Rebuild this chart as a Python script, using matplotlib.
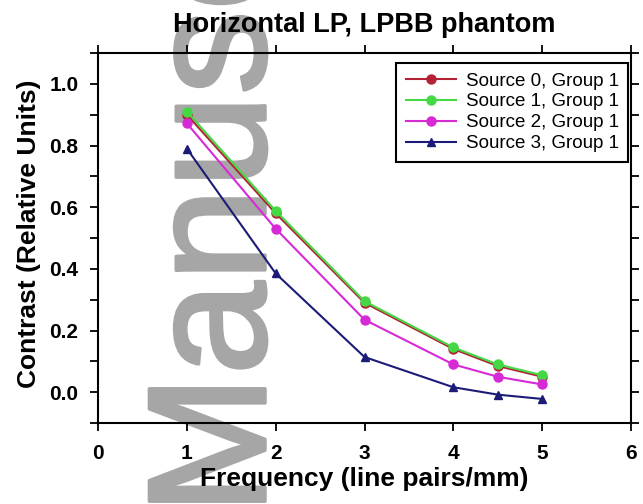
import numpy as np
import matplotlib
matplotlib.use("Agg")
import matplotlib.pyplot as plt
import matplotlib.patheffects as pe
from matplotlib.ticker import MultipleLocator

plt.rcParams['font.family'] = ['Liberation Sans', 'DejaVu Sans']

# line pair frequencies and measured contrast for each source
freq = [1, 2, 3, 4, 4.5, 5]
src0 = [0.900, 0.580, 0.290, 0.140, 0.085, 0.050]
src1 = [0.910, 0.588, 0.295, 0.145, 0.090, 0.055]
src2 = [0.872, 0.530, 0.235, 0.090, 0.050, 0.025]
src3 = [0.790, 0.385, 0.114, 0.016, -0.008, -0.022]
labels = ["Source 0, Group 1", "Source 1, Group 1",
          "Source 2, Group 1", "Source 3, Group 1"]
xticks = [0, 1, 2, 3, 4, 5, 6]
yticks = [0.0, 0.2, 0.4, 0.6, 0.8, 1.0]

fig = plt.figure(figsize=(6.43, 5.04), dpi=100)
ax = fig.add_axes([98 / 643, 1 - 423 / 504, 533 / 643, 370 / 504])
ax.set_facecolor('none')

# big grey stamp behind everything
fig.text(265 / 643, -11 / 504, "Manuscript", rotation=90, rotation_mode='anchor',
         ha='left', va='baseline', fontsize=121, color='#a6a6a6', zorder=-1,
         path_effects=[pe.Stroke(linewidth=2.5, foreground='#a6a6a6'), pe.Normal()])

ax.plot(freq, src0, '-o', color='#b22234', lw=1.5, ms=6.5, label=labels[0])
ax.plot(freq, src1, '-o', color='#45d845', lw=1.5, ms=6.5, label=labels[1])
ax.plot(freq, src2, '-o', color='#d62ad6', lw=1.5, ms=6.5, label=labels[2])
ax.plot(freq, src3, '-^', color='#1c1c78', lw=1.5, ms=5.5, label=labels[3])

ax.set_xlim(0, 6)
ax.set_ylim(-0.1, 1.1)
ax.set_xticks(xticks)
ax.set_yticks(yticks)
ax.set_yticklabels(["%.1f" % v for v in yticks])
ax.yaxis.set_minor_locator(MultipleLocator(0.1))

for s in ax.spines.values():
    s.set_linewidth(1.5)
ax.tick_params(which='both', direction='out', length=6, width=1.3,
               top=True, right=True, labelsize=15)
ax.tick_params(axis='x', pad=9)
ax.tick_params(axis='y', pad=8)
for t in ax.get_xticklabels() + ax.get_yticklabels():
    t.set_fontweight('bold')

ax.text(0.5, (423 - 32) / 370, "Horizontal LP, LPBB phantom", transform=ax.transAxes,
        ha='center', va='baseline', fontsize=19.5, fontweight='bold')
ax.set_xlabel("Frequency (line pairs/mm)", fontsize=19, fontweight='bold')
ax.set_ylabel("Contrast (Relative Units)", fontsize=19, fontweight='bold')
ax.xaxis.label.set_va('baseline')
ax.yaxis.label.set_va('baseline')
ax.xaxis.set_label_coords(0.5, (423 - 486) / 370)
ax.yaxis.set_label_coords((36 - 98) / 533, (423 - 234) / 370)

leg = ax.legend(loc='upper right', bbox_to_anchor=(530 / 533, 360 / 370),
                borderaxespad=0, fontsize=13.5, fancybox=False, framealpha=1,
                edgecolor='black', handlelength=2.7, handletextpad=0.5,
                labelspacing=0.2, borderpad=0.5)
leg.get_frame().set_linewidth(1.5)

fig.savefig("out.png", dpi=100)
